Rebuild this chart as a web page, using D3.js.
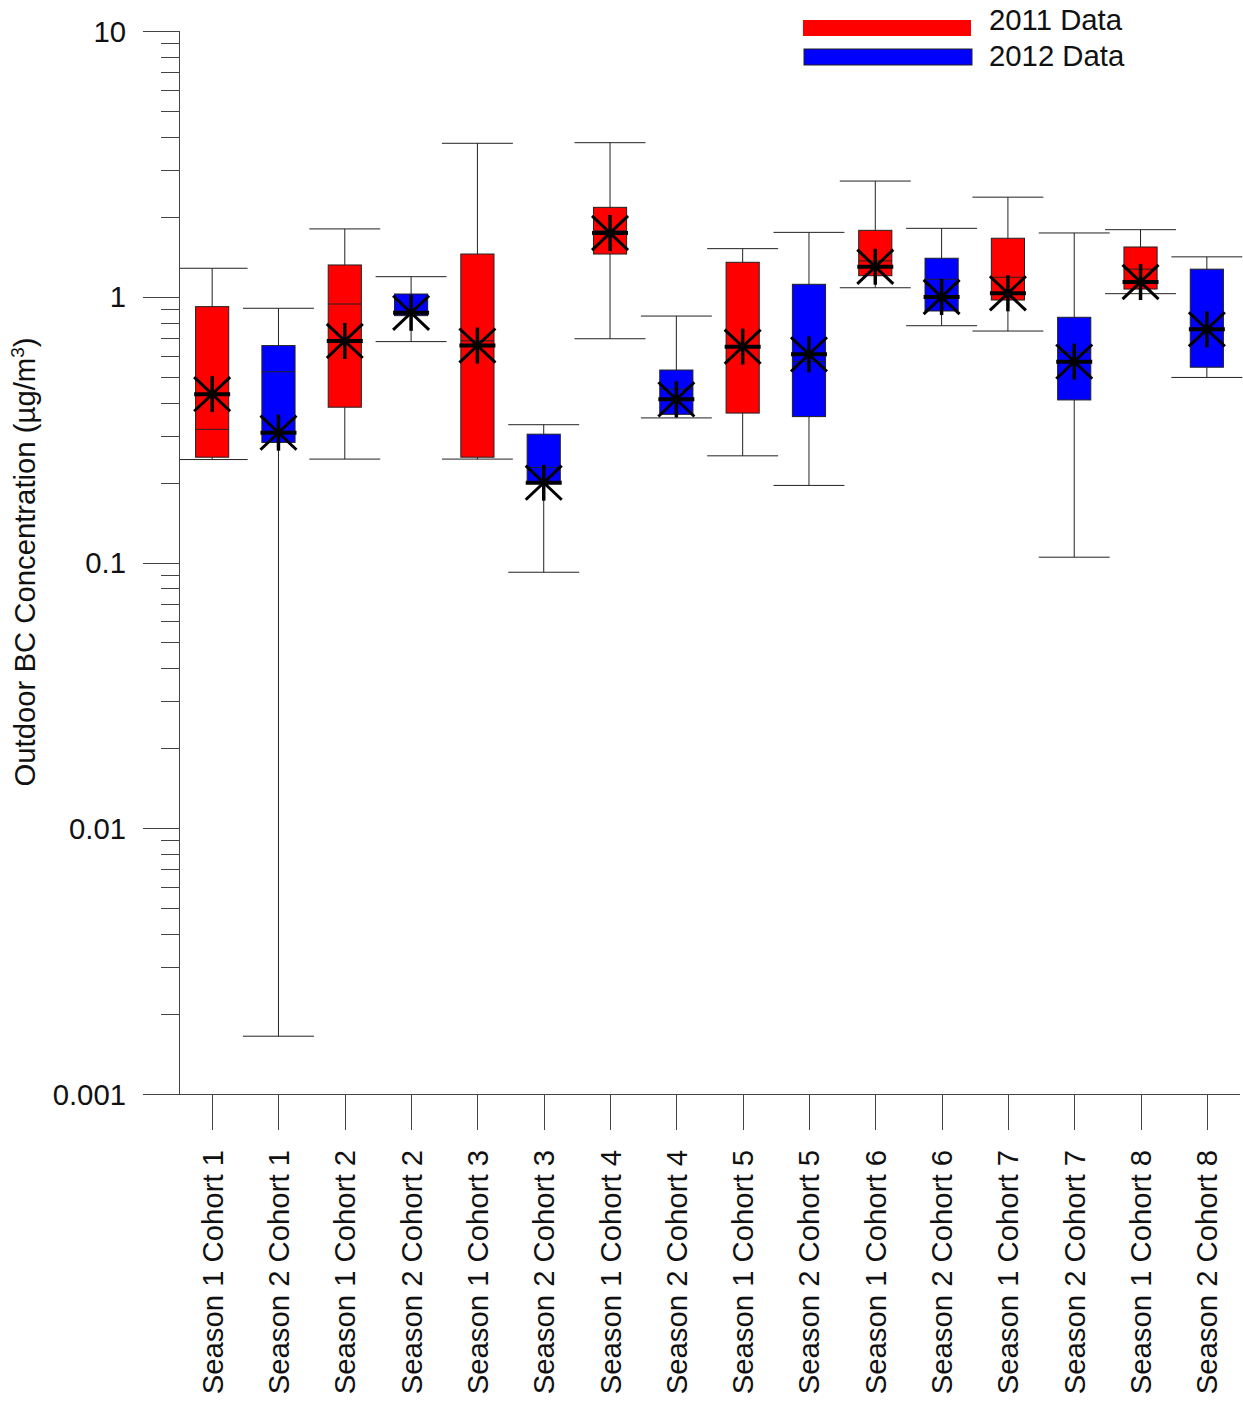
<!DOCTYPE html>
<html>
<head>
<meta charset="utf-8">
<script src="https://cdn.jsdelivr.net/npm/d3@7"></script>
<style>
  html, body { margin: 0; padding: 0; background: #fff; }
  svg { display: block; font-family: "Liberation Sans", Arial, sans-serif; }
</style>
</head>
<body>
<svg id="chart" width="1243" height="1401"></svg>
<script>
const categories = [
  "Season 1 Cohort 1", "Season 2 Cohort 1", "Season 1 Cohort 2", "Season 2 Cohort 2",
  "Season 1 Cohort 3", "Season 2 Cohort 3", "Season 1 Cohort 4", "Season 2 Cohort 4",
  "Season 1 Cohort 5", "Season 2 Cohort 5", "Season 1 Cohort 6", "Season 2 Cohort 6",
  "Season 1 Cohort 7", "Season 2 Cohort 7", "Season 1 Cohort 8", "Season 2 Cohort 8"
];
const dataYear = ["2011", "2012", "2011", "2012", "2011", "2012", "2011", "2012",
                  "2011", "2012", "2011", "2012", "2011", "2012", "2011", "2012"];
const whiskerLow  = [0.244, 0.00165, 0.245, 0.678, 0.245, 0.0919, 0.695, 0.350, 0.252, 0.195, 1.081, 0.778, 0.743, 0.1047, 1.027, 0.497];
const q1          = [0.249, 0.283, 0.384, 0.849, 0.249, 0.200, 1.448, 0.361, 0.365, 0.354, 1.20, 0.884, 0.972, 0.409, 1.069, 0.543];
const median      = [0.317, 0.522, 0.939, 0.87, 0.683, 0.2275, 1.77, 0.449, 0.649, 0.570, 1.364, 1.164, 1.184, 0.618, 1.27, 0.754];
const q3          = [0.918, 0.655, 1.317, 1.024, 1.448, 0.304, 2.17, 0.530, 1.348, 1.114, 1.778, 1.396, 1.66, 0.837, 1.539, 1.27];
const whiskerHigh = [1.28, 0.905, 1.80, 1.19, 3.78, 0.330, 3.80, 0.846, 1.517, 1.747, 2.725, 1.809, 2.37, 1.738, 1.788, 1.413];
const meanVal     = [0.430, 0.308, 0.682, 0.87, 0.655, 0.1997, 1.738, 0.411, 0.649, 0.607, 1.297, 0.998, 1.03, 0.570, 1.136, 0.754];
const yTickValues = [0.001, 0.01, 0.1, 1, 10];
const yTickLabels = ["0.001", "0.01", "0.1", "1", "10"];
const legendLabels = ["2011 Data", "2012 Data"];
const yearColors = { "2011": "#ff0000", "2012": "#0000ff" };

(function () {
const svg = d3.select("#chart");
const pL = 179, pR = 1240, pT = 31, pB = 1094;
const FS = 29.3;

const x = d3.scaleBand().domain(categories).range([pL, pR]).padding(0);
const y = d3.scaleLog().domain([0.001, 10]).range([pB, pT]);

const bw = x.bandwidth();
const boxW = bw * 0.5;
const capW = bw * 1.07;

svg.append("defs").append("clipPath").attr("id", "plotclip")
  .append("rect").attr("x", pL).attr("y", 0).attr("width", pR - pL + 5).attr("height", pB);

const plot = svg.append("g").attr("clip-path", "url(#plotclip)");

const rows = categories.map((c, i) => ({
  c, year: dataYear[i], lo: whiskerLow[i], q1: q1[i], med: median[i], q3: q3[i], hi: whiskerHigh[i], mean: meanVal[i]
}));

const g = plot.selectAll("g.box").data(rows).enter().append("g").attr("class", "box")
  .attr("transform", d => `translate(${x(d.c) + bw / 2},0)`);

// whiskers
g.append("line").attr("x1", 0).attr("x2", 0).attr("y1", d => y(d.hi)).attr("y2", d => y(d.q3))
  .attr("stroke", "#222").attr("stroke-width", 1);
g.append("line").attr("x1", 0).attr("x2", 0).attr("y1", d => y(d.q1)).attr("y2", d => y(d.lo))
  .attr("stroke", "#222").attr("stroke-width", 1);
g.append("line").attr("x1", -capW / 2).attr("x2", capW / 2).attr("y1", d => y(d.hi)).attr("y2", d => y(d.hi))
  .attr("stroke", "#222").attr("stroke-width", 1);
g.append("line").attr("x1", -capW / 2).attr("x2", capW / 2).attr("y1", d => y(d.lo)).attr("y2", d => y(d.lo))
  .attr("stroke", "#222").attr("stroke-width", 1);

// boxes
g.append("rect").attr("x", -boxW / 2).attr("width", boxW)
  .attr("y", d => y(d.q3)).attr("height", d => y(d.q1) - y(d.q3))
  .attr("fill", d => yearColors[d.year]).attr("stroke", "#222").attr("stroke-width", 1);

// median
g.append("line").attr("x1", -boxW / 2).attr("x2", boxW / 2).attr("y1", d => y(d.med)).attr("y2", d => y(d.med))
  .attr("stroke", "#222").attr("stroke-width", 1);

// mean asterisk
const r = 18;
const star = g.append("g").attr("transform", d => `translate(0,${y(d.mean)})`);
star.append("line").attr("x1", -r).attr("x2", r).attr("y1", 0).attr("y2", 0).attr("stroke", "#000").attr("stroke-width", 4);
star.append("line").attr("x1", 0).attr("x2", 0).attr("y1", -r).attr("y2", r).attr("stroke", "#000").attr("stroke-width", 3.5);
star.append("line").attr("x1", -r).attr("x2", r).attr("y1", -r * 0.95).attr("y2", r * 0.95).attr("stroke", "#000").attr("stroke-width", 3);
star.append("line").attr("x1", -r).attr("x2", r).attr("y1", r * 0.95).attr("y2", -r * 0.95).attr("stroke", "#000").attr("stroke-width", 3);

// Y axis
const yAxis = svg.append("g").attr("class", "yaxis");
yAxis.append("line").attr("x1", pL + 0.5).attr("x2", pL + 0.5).attr("y1", pT).attr("y2", pB)
  .attr("stroke", "#444").attr("stroke-width", 1);
const minor = [];
for (let e = -3; e < 1; e++) {
  for (let m = 2; m <= 9; m++) minor.push(m * Math.pow(10, e));
}
yAxis.selectAll("line.minor").data(minor).enter().append("line").attr("class", "minor")
  .attr("x1", 161).attr("x2", pL).attr("y1", d => Math.round(y(d)) + 0.5).attr("y2", d => Math.round(y(d)) + 0.5)
  .attr("stroke", "#444").attr("stroke-width", 1);
yAxis.selectAll("line.major").data(yTickValues).enter().append("line").attr("class", "major")
  .attr("x1", 143).attr("x2", pL).attr("y1", d => Math.round(y(d)) + 0.5).attr("y2", d => Math.round(y(d)) + 0.5)
  .attr("stroke", "#444").attr("stroke-width", 1);
yAxis.selectAll("text").data(yTickValues).enter().append("text")
  .attr("x", 126).attr("y", d => y(d)).attr("dy", "0.36em").attr("text-anchor", "end")
  .attr("font-size", FS).attr("fill", "#111").text((d, i) => yTickLabels[i]);

// X axis
const xAxis = svg.append("g").attr("class", "xaxis");
xAxis.append("line").attr("x1", pL).attr("x2", pR).attr("y1", pB + 0.5).attr("y2", pB + 0.5)
  .attr("stroke", "#444").attr("stroke-width", 1);
xAxis.selectAll("line.tick").data(categories).enter().append("line").attr("class", "tick")
  .attr("x1", d => Math.round(x(d) + bw / 2) + 0.5).attr("x2", d => Math.round(x(d) + bw / 2) + 0.5)
  .attr("y1", pB).attr("y2", 1130).attr("stroke", "#444").attr("stroke-width", 1);
xAxis.selectAll("text").data(categories).enter().append("text")
  .attr("transform", d => `translate(${x(d) + bw / 2 + 10.5},1150) rotate(-90)`)
  .attr("text-anchor", "end").attr("font-size", FS).attr("fill", "#111").text(d => d);

// Y axis title
const yt = svg.append("text").attr("transform", "translate(35,562) rotate(-90)")
  .attr("text-anchor", "middle").attr("font-size", FS).attr("fill", "#111");
yt.append("tspan").text("Outdoor BC Concentration (µg/m");
yt.append("tspan").attr("dy", -11).attr("font-size", 19).text("3");
yt.append("tspan").attr("dy", 11).text(")");

// Legend
const legend = svg.append("g").attr("class", "legend");
const legendY = [20, 49];
const legendTextY = [30, 66];
legendLabels.forEach((lab, i) => {
  const col = yearColors[i === 0 ? "2011" : "2012"];
  legend.append("rect").attr("x", 803 + i).attr("y", legendY[i]).attr("width", 168).attr("height", 16)
    .attr("fill", col).attr("stroke", i === 0 ? "none" : "#222").attr("stroke-width", 1);
  legend.append("text").attr("x", 989).attr("y", legendTextY[i]).attr("font-size", FS)
    .attr("fill", "#111").text(lab);
});
})();
</script>
</body>
</html>
